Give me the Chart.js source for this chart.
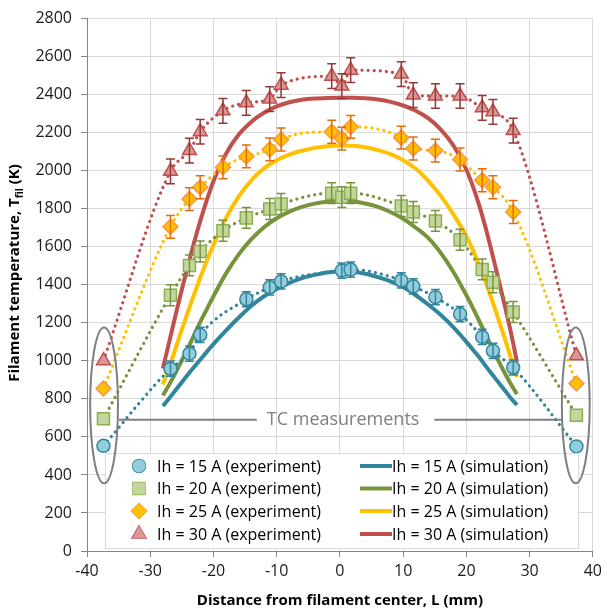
<!DOCTYPE html>
<html><head><meta charset="utf-8">
<script src="https://cdn.jsdelivr.net/npm/chart.js@4/dist/chart.umd.min.js"></script>
<style>html,body{margin:0;padding:0;background:#fff;}canvas{display:block;}</style>
</head><body>
<canvas id="c" width="607" height="614"></canvas>
<script>
// ---------- DATA ----------
const xTicks = [-40, -30, -20, -10, 0, 10, 20, 30, 40];
const yTicks = [0, 200, 400, 600, 800, 1000, 1200, 1400, 1600, 1800, 2000, 2200, 2400, 2600, 2800];

// experiment positions (mm); first and last are TC measurements
const expX = [-37.4, -26.8, -23.8, -22.1, -18.5, -14.8, -11.1, -9.3, -1.3, 0.3, 1.7, 9.7, 11.6, 15.1, 19.0, 22.5, 24.2, 27.4, 37.4];
const exp15 = [553, 959, 1038, 1137, null, 1324, 1387, 1418, null, 1475, 1480, 1423, 1392, 1335, 1246, 1126, 1053, 965, 550];
const exp20 = [695, 1345, 1502, 1575, 1684, 1752, 1799, 1825, 1882, 1861, 1882, 1814, 1783, 1736, 1637, 1481, 1413, 1257, 714];
const exp25 = [855, 1705, 1851, 1913, 2018, 2075, 2112, 2164, 2205, 2169, 2231, 2174, 2117, 2106, 2059, 1950, 1913, 1783, 881];
const exp30 = [1001, 1997, 2106, 2205, 2315, 2357, 2377, 2450, 2497, 2445, 2529, 2508, 2398, 2393, 2393, 2331, 2310, 2211, 1027];
const expErr = [40, 55, 60, 65]; // K, error bar half-height per current

// simulation
const simX = [-28, -27, -26, -25, -24, -23, -22, -21, -20, -18, -16, -14, -12, -10, -8, -6, -4, -2, 0, 2, 4, 6, 8, 10, 12, 14, 16, 18, 20, 21, 22, 23, 24, 25, 26, 27, 28];
const sim15 = [762, 803, 845, 888, 930, 970, 1010, 1050, 1088, 1160, 1228, 1290, 1340, 1378, 1410, 1435, 1452, 1465, 1470, 1468, 1458, 1440, 1418, 1388, 1345, 1295, 1240, 1175, 1100, 1060, 1020, 975, 932, 890, 848, 805, 768];
const sim20 = [818, 875, 937, 1003, 1070, 1140, 1210, 1275, 1340, 1460, 1560, 1640, 1703, 1750, 1785, 1810, 1827, 1837, 1840, 1838, 1828, 1810, 1783, 1747, 1700, 1645, 1565, 1465, 1345, 1280, 1212, 1142, 1073, 1005, 940, 880, 825];
const sim25 = [876, 965, 1065, 1165, 1262, 1355, 1445, 1530, 1610, 1752, 1865, 1950, 2012, 2055, 2085, 2105, 2120, 2129, 2132, 2131, 2123, 2108, 2087, 2055, 2010, 1945, 1865, 1768, 1655, 1585, 1505, 1420, 1325, 1225, 1125, 1020, 915];
const sim30 = [960, 1100, 1240, 1375, 1505, 1630, 1745, 1850, 1945, 2090, 2190, 2258, 2305, 2338, 2360, 2373, 2380, 2383, 2384, 2384, 2381, 2374, 2362, 2343, 2315, 2275, 2215, 2130, 2005, 1920, 1820, 1705, 1575, 1440, 1300, 1155, 995];

const currents = ['15', '20', '25', '30'];
const expLabels = currents.map(c => 'Ih = ' + c + ' A (experiment)');
const simLabels = currents.map(c => 'Ih = ' + c + ' A (simulation)');
const tcLabel = 'TC measurements';
const xTitle = 'Distance from filament center, L (mm)';
const yTitleParts = ['Filament temperature, T', 'fil', ' (K)'];

// ---------- STYLES ----------
const FONT = '"Open Sans", "DejaVu Sans", sans-serif';
const simColors = ['#31859C', '#77933C', '#FFC000', '#C0504D'];
const dotColors = ['#31859C', '#77933C', '#FFC000', '#C0504D'];
const ptFill = ['#92CDDC', '#C3D69B', '#FFC000', '#D99694'];
const ptBorder = ['#31859C', '#8EB050', '#F79646', '#C0504D'];
const errColors = ['#31859C', '#77933C', '#E46C0A', '#953735'];
const ptStyles = ['circle', 'rect', 'rectRot', 'triangle'];
const ptRadius = [6.5, 8.5, 7.5, 8];

const expSeries = [exp15, exp20, exp25, exp30];
const simSeries = [sim15, sim20, sim25, sim30];

const datasets = [];
expSeries.forEach((arr, i) => {
  datasets.push({
    label: expLabels[i],
    data: expX.map((x, k) => ({x: x, y: arr[k]})),
    showLine: true, spanGaps: true,
    borderColor: dotColors[i], borderWidth: 3.2, borderDash: [0.1, 6], borderCapStyle: 'round',
    cubicInterpolationMode: 'monotone',
    pointStyle: ptStyles[i], pointRadius: ptRadius[i],
    pointBackgroundColor: ptFill[i], pointBorderColor: ptBorder[i], pointBorderWidth: 1.5,
    errIndex: i, order: 0
  });
});
simSeries.forEach((arr, i) => {
  datasets.push({
    label: simLabels[i],
    data: simX.map((x, k) => ({x: x, y: arr[k]})),
    showLine: true, borderColor: simColors[i], borderWidth: 4, pointRadius: 0,
    cubicInterpolationMode: 'monotone', order: 1
  });
});

// ---------- PLUGINS ----------
const errorBars = {
  id: 'errorBars',
  afterDatasetsDraw(chart) {
    const ctx = chart.ctx, xs = chart.scales.x, ys = chart.scales.y;
    ctx.save();
    chart.data.datasets.forEach(ds => {
      if (ds.errIndex === undefined) return;
      const e = expErr[ds.errIndex];
      ctx.strokeStyle = errColors[ds.errIndex];
      ctx.lineWidth = 1.5;
      ds.data.forEach((p, k) => {
        if (p.y === null || k === 0 || k === ds.data.length - 1) return;
        const px = xs.getPixelForValue(p.x);
        const y1 = ys.getPixelForValue(p.y - e), y2 = ys.getPixelForValue(p.y + e);
        ctx.beginPath();
        ctx.moveTo(px, y1); ctx.lineTo(px, y2);
        ctx.moveTo(px - 4.5, y1); ctx.lineTo(px + 4.5, y1);
        ctx.moveTo(px - 4.5, y2); ctx.lineTo(px + 4.5, y2);
        ctx.stroke();
      });
    });
    ctx.restore();
  }
};

const decorations = {
  id: 'decorations',
  afterDraw(chart) {
    const ctx = chart.ctx, xs = chart.scales.x, ys = chart.scales.y;
    const ca = chart.chartArea;
    ctx.save();
    // legend box
    const lx = 105, ly = 453, lw = 473, lh = 95;
    ctx.fillStyle = '#fff';
    ctx.fillRect(lx, ly, lw, lh);
    ctx.strokeStyle = '#d9d9d9'; ctx.lineWidth = 1;
    ctx.strokeRect(lx + 0.5, ly + 0.5, lw, lh);
    ctx.font = '16px ' + FONT;
    ctx.fillStyle = '#000';
    ctx.textBaseline = 'middle';
    ctx.textAlign = 'left';
    const rows = [466, 488.5, 511, 534];
    for (let i = 0; i < 4; i++) {
      const y = rows[i];
      ctx.fillStyle = ptFill[i]; ctx.strokeStyle = ptBorder[i]; ctx.lineWidth = 1.5;
      Chart.helpers.drawPoint(ctx, {pointStyle: ptStyles[i], radius: ptRadius[i], rotation: 0, borderWidth: 1.5}, 139, y);
      ctx.fill();
      ctx.fillStyle = '#000';
      ctx.fillText(expLabels[i], 157, y + 1);
      ctx.strokeStyle = simColors[i]; ctx.lineWidth = 4; ctx.lineCap = 'butt';
      ctx.beginPath(); ctx.moveTo(360, y); ctx.lineTo(392, y); ctx.stroke();
      ctx.fillText(simLabels[i], 392, y + 1);
    }
    // TC ellipses
    ctx.strokeStyle = '#7f7f7f'; ctx.lineWidth = 2;
    [[-37.3, 766], [37.3, 766]].forEach(c => {
      const cx = xs.getPixelForValue(c[0]), cy = ys.getPixelForValue(c[1]);
      const rx = Math.abs(xs.getPixelForValue(2.2) - xs.getPixelForValue(0));
      const ry = Math.abs(ys.getPixelForValue(410) - ys.getPixelForValue(0));
      ctx.beginPath(); ctx.ellipse(cx, cy, rx, ry, 0, 0, Math.PI * 2); ctx.stroke();
    });
    // TC label & connector lines
    const ty = ys.getPixelForValue(690);
    const tx = xs.getPixelForValue(0.5);
    ctx.font = '18px ' + FONT;
    ctx.fillStyle = '#7f7f7f';
    ctx.textAlign = 'center';
    ctx.fillText(tcLabel, tx, ty);
    const tw = ctx.measureText(tcLabel).width;
    ctx.lineWidth = 2;
    ctx.beginPath();
    ctx.moveTo(xs.getPixelForValue(-35.0), ty); ctx.lineTo(tx - tw / 2 - 10, ty);
    ctx.moveTo(tx + tw / 2 + 15, ty); ctx.lineTo(xs.getPixelForValue(35.1), ty);
    ctx.stroke();
    // axis titles
    ctx.fillStyle = '#000';
    ctx.font = 'bold 15px ' + FONT;
    ctx.textAlign = 'center';
    ctx.fillText(xTitle, (ca.left + ca.right) / 2, 601);
    ctx.translate(15, 273);
    ctx.rotate(-Math.PI / 2);
    const f1 = 'bold 15px ' + FONT, f2 = 'bold 10px ' + FONT;
    ctx.font = f1; const w1 = ctx.measureText(yTitleParts[0]).width, w3 = ctx.measureText(yTitleParts[2]).width;
    ctx.font = f2; const w2 = ctx.measureText(yTitleParts[1]).width;
    let sx = -(w1 + w2 + w3) / 2;
    ctx.textAlign = 'left';
    ctx.font = f1; ctx.fillText(yTitleParts[0], sx, 0); sx += w1;
    ctx.font = f2; ctx.fillText(yTitleParts[1], sx, 5); sx += w2;
    ctx.font = f1; ctx.fillText(yTitleParts[2], sx, 0);
    ctx.restore();
  }
};

new Chart(document.getElementById('c'), {
  type: 'scatter',
  data: {datasets: datasets},
  options: {
    responsive: false, animation: false, devicePixelRatio: 1,
    layout: {padding: {top: 14, right: 10, left: 0, bottom: 0}},
    plugins: {legend: {display: false}, tooltip: {enabled: false}},
    scales: {
      x: {
        type: 'linear', min: xTicks[0], max: xTicks[xTicks.length - 1],
        afterBuildTicks: s => { s.ticks = xTicks.map(v => ({value: v})); },
        afterFit: s => { s.height = 63; },
        grid: {color: '#d9d9d9', tickColor: '#868686', tickLength: 6, lineWidth: 1},
        border: {color: '#868686', width: 1},
        ticks: {color: '#1a1a1a', font: {family: FONT, size: 16}, padding: 5, maxRotation: 0,
                callback: v => String(v)}
      },
      y: {
        type: 'linear', min: yTicks[0], max: yTicks[yTicks.length - 1],
        afterBuildTicks: s => { s.ticks = yTicks.map(v => ({value: v})); },
        afterFit: s => { s.width = 87; },
        grid: {color: '#d9d9d9', tickColor: '#868686', tickLength: 6, lineWidth: 1},
        border: {color: '#868686', width: 1},
        ticks: {color: '#1a1a1a', font: {family: FONT, size: 16}, padding: 9,
                callback: v => String(v)}
      }
    }
  },
  plugins: [errorBars, decorations]
});
</script>
</body></html>
